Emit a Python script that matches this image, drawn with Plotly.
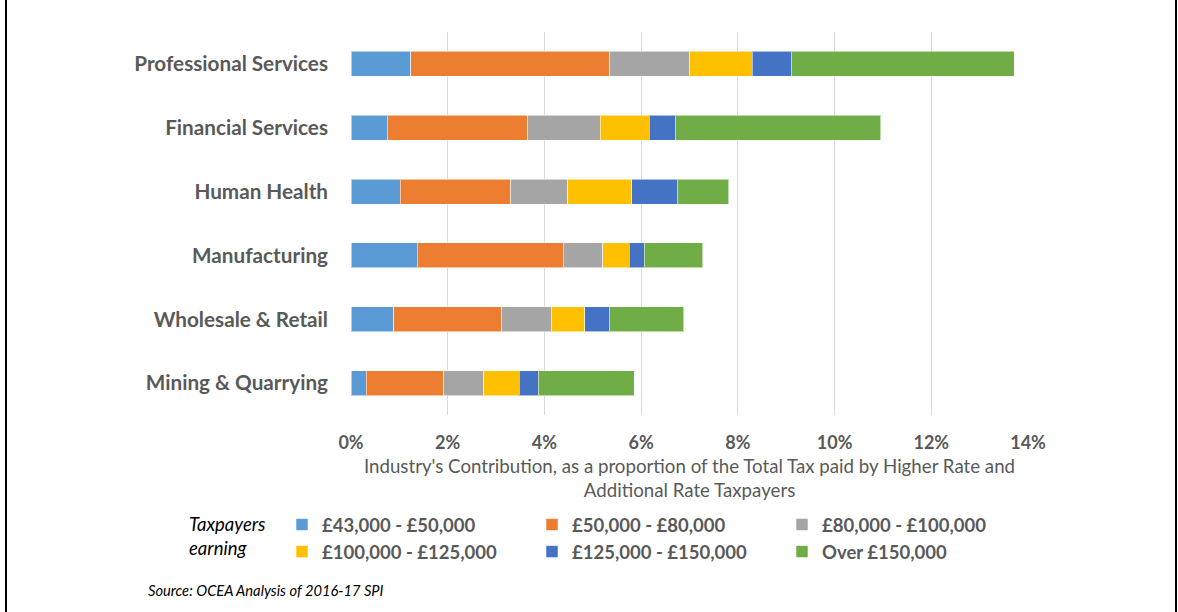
import plotly.graph_objects as go

# Industry contribution to higher/additional rate tax, by income band (% of total)
industries = ["Professional Services", "Financial Services", "Human Health",
              "Manufacturing", "Wholesale & Retail", "Mining & Quarrying"]

band_43_50 = [1.24, 0.75, 1.02, 1.37, 0.88, 0.32]
band_50_80 = [4.11, 2.90, 2.28, 3.02, 2.24, 1.60]
band_80_100 = [1.66, 1.50, 1.18, 0.82, 1.02, 0.83]
band_100_125 = [1.29, 1.02, 1.33, 0.54, 0.69, 0.73]
band_125_150 = [0.80, 0.54, 0.94, 0.31, 0.51, 0.39]
band_over_150 = [4.62, 4.25, 1.06, 1.21, 1.54, 1.99]

band_names = ["£43,000 - £50,000", "£50,000 - £80,000", "£80,000 - £100,000",
              "£100,000 - £125,000", "£125,000 - £150,000", "Over £150,000"]
band_colors = ["#5B9BD5", "#ED7D31", "#A5A5A5", "#FFC000", "#4472C4", "#70AD47"]
band_values = [band_43_50, band_50_80, band_80_100, band_100_125, band_125_150, band_over_150]

x_ticks = [0, 2, 4, 6, 8, 10, 12, 14]

FONT = "Lato, 'Open Sans', sans-serif"
GREY = "#595959"

fig = go.Figure()
for name, color, vals in zip(band_names, band_colors, band_values):
    fig.add_trace(go.Bar(
        y=industries,
        x=[v / 100 for v in vals],
        name=name,
        orientation="h",
        marker=dict(color=color, line=dict(color="rgba(255,255,255,0.55)", width=1)),
    ))

W, H = 1178, 612
L, R, T, B = 351, 150, 32, 197
pw, ph = W - L - R, H - T - B


def px_x(p):
    return (p - L) / pw


def px_y(p):
    return (H - B - p) / ph


fig.update_layout(
    width=W, height=H,
    barmode="stack",
    bargap=0.61,
    margin=dict(l=L, r=R, t=T, b=B, pad=0),
    paper_bgcolor="white",
    plot_bgcolor="white",
    font=dict(family=FONT, color=GREY),
    xaxis=dict(
        range=[0, 0.14],
        tickvals=[t / 100 for t in x_ticks],
        ticktext=[f"{t}%" for t in x_ticks],
        showgrid=True, gridcolor="#D9D9D9", gridwidth=1,
        zeroline=False, showline=False,
        tickfont=dict(family=FONT, size=18, color=GREY, weight="bold"),
        ticks="", ticklabelstandoff=15,
        title=dict(
            text="Industry's Contribution, as a proportion of the Total Tax paid by Higher Rate and<br>Additional Rate Taxpayers",
            font=dict(family=FONT, size=18.7, color=GREY),
            standoff=7,
        ),
        fixedrange=True,
    ),
    yaxis=dict(
        categoryorder="array", categoryarray=industries,
        autorange="reversed",
        showgrid=False, zeroline=False, showline=False,
        tickfont=dict(family=FONT, size=20.7, color=GREY, weight="bold"),
        ticks="", ticklabelstandoff=22,
    ),
    # anchored on its right edge beyond the plot so rows hold three entries each
    legend=dict(
        orientation="h",
        x=px_x(1032), xanchor="right",
        y=px_y(506), yanchor="top",
        entrywidth=205, entrywidthmode="pixels",
        itemwidth=30,
        font=dict(family=FONT, size=18.5, color=GREY, weight="bold"),
        traceorder="normal",
        bgcolor="rgba(0,0,0,0)",
    ),
    showlegend=True,
)

annotations = [
    dict(text="<i>Taxpayers</i>", x=px_x(187), y=px_y(524), xanchor="left", yanchor="middle",
         font=dict(family=FONT, size=18.5, color="#000000")),
    dict(text="<i>earning</i>", x=px_x(187), y=px_y(548), xanchor="left", yanchor="middle",
         font=dict(family=FONT, size=18.5, color="#000000")),
    dict(text="<i>Source: OCEA Analysis of 2016-17 SPI</i>", x=px_x(146), y=px_y(590),
         xanchor="left", yanchor="middle",
         font=dict(family=FONT, size=14.7, color="#000000")),
]
for a in annotations:
    a.update(xref="paper", yref="paper", showarrow=False)
fig.update_layout(annotations=annotations)

# Left and right frame lines
for xp in (6, 1176):
    fig.add_shape(type="line", xref="paper", yref="paper",
                  x0=px_x(xp), x1=px_x(xp), y0=px_y(0), y1=px_y(H),
                  line=dict(color="black", width=2))

fig.write_html("out.html")
